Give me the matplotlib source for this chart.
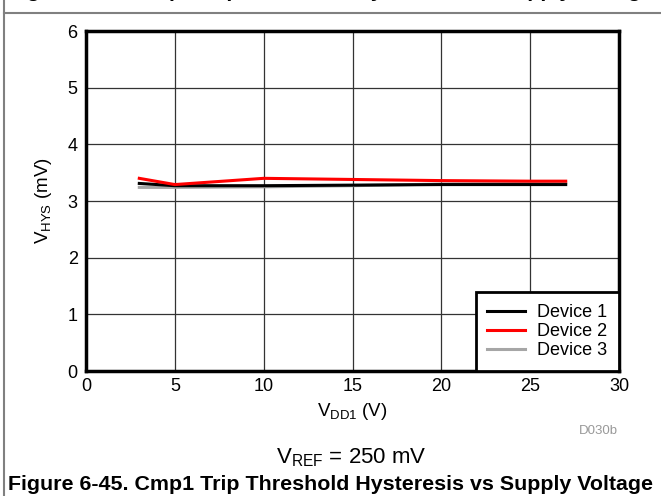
import matplotlib
matplotlib.use("Agg")
import matplotlib.pyplot as plt
from matplotlib.lines import Line2D

plt.rcParams['font.family'] = ['Liberation Sans', 'DejaVu Sans']
plt.rcParams['mathtext.fontset'] = 'custom'
plt.rcParams['mathtext.rm'] = 'Liberation Sans'

# supply voltage (V) and hysteresis (mV) per device
vdd = [3, 5, 10, 15, 20, 25, 27]
dev1 = [3.31, 3.27, 3.27, 3.28, 3.29, 3.29, 3.29]
dev2 = [3.40, 3.29, 3.40, 3.38, 3.36, 3.35, 3.35]
dev3 = [3.24, 3.24, 3.25, 3.27, 3.30, 3.31, 3.32]
labels = ["Device 1", "Device 2", "Device 3"]
colors = ["black", "#ff0000", "#a6a6a6"]

fig = plt.figure(figsize=(6.61, 4.96), dpi=100)
ax = fig.add_axes([86/661, 1-371/496, (619-86)/661, (371-31)/496])

# grey first so black/red sit on top like the original
ax.plot(vdd, dev3, color=colors[2], lw=2.2, label=labels[2], zorder=3)
ax.plot(vdd, dev1, color=colors[0], lw=2.2, label=labels[0], zorder=4)
ax.plot(vdd, dev2, color=colors[1], lw=2.2, label=labels[1], zorder=5)

ax.set_xlim(0, 30)
ax.set_ylim(0, 6)
ax.set_xticks(range(0, 31, 5))
ax.set_yticks(range(0, 7))
ax.grid(True, color="#333333", lw=0.9)
ax.tick_params(length=0, labelsize=13)
ax.tick_params(axis="y", pad=6)
ax.tick_params(axis="x", pad=5)
for s in ax.spines.values():
    s.set_linewidth(2.5)

ax.set_xlabel(r"V$_{\mathregular{DD1}}$ (V)", fontsize=13.5, labelpad=4)
ax.set_ylabel(r"V$_{\mathregular{HYS}}$ (mV)", fontsize=13.5, labelpad=10)

handles = [Line2D([], [], color=c, lw=2.2) for c in colors]
leg = ax.legend(handles, labels, loc="lower right", borderaxespad=0,
                fancybox=False, edgecolor="black", fontsize=13,
                handlelength=2.1, handletextpad=0.65, labelspacing=0.12,
                borderpad=0.65, framealpha=1)
leg.get_frame().set_linewidth(2)
leg.set_zorder(10)

fig.text(618/661, 1-431/496, "D030b", color="#999999", fontsize=9.5, ha="right", va="center")
fig.text(351/661, 1-458/496, r"V$_{\mathregular{REF}}$ = 250 mV", fontsize=16, ha="center", va="center")
fig.text(331/661, 1-485/496, "Figure 6-45. Cmp1 Trip Threshold Hysteresis vs Supply Voltage",
         fontsize=15.4, fontweight="bold", ha="center", va="center")
# previous figure caption, cut off at the top edge (only descenders show)
fig.text(331/661, 1+3/496, "Figure 6-44. Cmp1 Trip Threshold Hysteresis vs Supply Voltage",
         fontsize=15.4, fontweight="bold", ha="center", va="baseline")

# page frame lines
fig.add_artist(Line2D([4/661, 1], [1-12.5/496, 1-12.5/496], color="#808080", lw=1.5))
fig.add_artist(Line2D([4/661, 4/661], [0, 1], color="#808080", lw=1.5))

fig.savefig("out.png", dpi=100)
